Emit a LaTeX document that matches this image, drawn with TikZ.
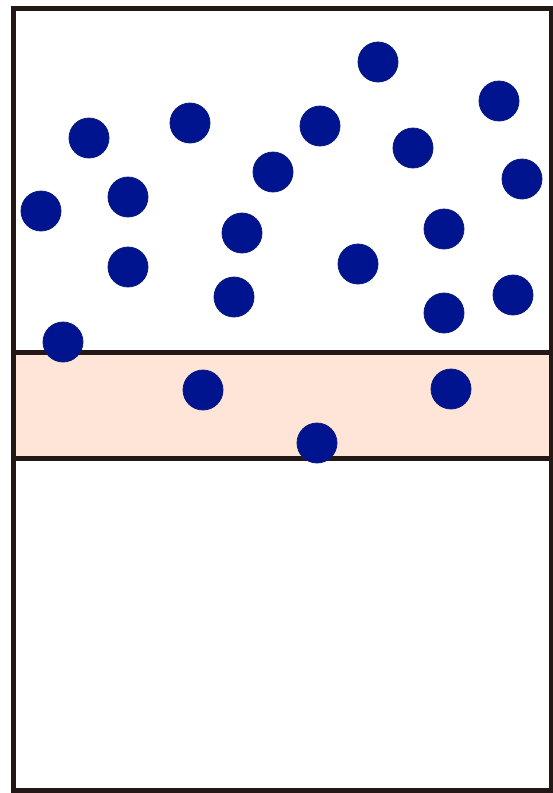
\documentclass[tikz,border=0pt]{standalone}
\usepackage{xcolor}
\usepackage{tikz}
\definecolor{framecol}{HTML}{231815}
\definecolor{bandcol}{HTML}{FFE4D8}
\definecolor{dotcol}{HTML}{00148F}
\definecolor{dotedge}{HTML}{0B1C7C}

\begin{document}
\begin{tikzpicture}[
x=1pt, y=-1pt,
frame/.style={draw=framecol, line width=5pt},
particle/.style={circle, fill=dotcol, draw=dotedge, line width=0.8pt, minimum size=40pt, inner sep=0pt}
]
\useasboundingbox (0,0) rectangle (552,793);
% band and container
\fill[bandcol] (13.5,352.5) rectangle (551.5,458);
\draw[frame] (13.5,8) rectangle (551.5,790.5);
\draw[frame] (13.5,352.5) -- (551.5,352.5);
\draw[frame] (13.5,458) -- (551.5,458);
% particles
\foreach \px/\py [count=\i] in {378/62, 499/101, 89/138, 190/123, 320/126, 413/148, 273/172,
  522/179, 41/211, 128/197, 242/233, 444/229, 128/267, 358/264, 234/297, 444/313, 513/295,
  63/342, 203/390, 451/389, 317/443}
  \node[particle] (p\i) at (\px,\py) {};
\end{tikzpicture}
\end{document}
